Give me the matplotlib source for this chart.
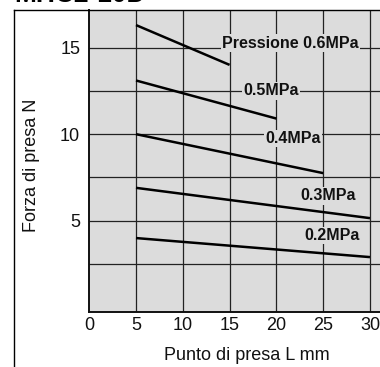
import matplotlib
matplotlib.use("Agg")
import matplotlib.pyplot as plt
from matplotlib.lines import Line2D

plt.rcParams['font.family'] = ['Liberation Sans', 'DejaVu Sans']

# Data
series_labels = ["Pressione 0.6MPa", "0.5MPa", "0.4MPa", "0.3MPa", "0.2MPa"]
series_x = [[5, 15], [5, 20], [5, 25], [5, 30], [5, 30]]
series_y = [[16.3, 14.0], [13.1, 10.9], [10.0, 7.75], [6.9, 5.15], [4.0, 2.9]]
label_pos = [(21.5, 15.25), (19.4, 12.5), (21.8, 9.75), (25.5, 6.45), (26.0, 4.15)]
x_ticks = [0, 5, 10, 15, 20, 25, 30]
y_ticks = [5, 10, 15]

W, H = 380, 367
fig = plt.figure(figsize=(W / 100, H / 100), dpi=100)
ax = fig.add_axes([89.2 / W, 55 / H, (W - 89.2) / W, 302 / H])
ax.set_facecolor('#dcdcdc')
ax.set_xlim(0, 31.07)
ax.set_ylim(-0.27, 17.17)

# grid
for gx in range(5, 31, 5):
    ax.axvline(gx, color='#222222', lw=0.9, zorder=1)
for gy in [2.5, 5, 7.5, 10, 12.5, 15]:
    ax.axhline(gy, color='#222222', lw=0.9, zorder=1)

for xs, ys in zip(series_x, series_y):
    ax.plot(xs, ys, color='black', lw=1.8, zorder=3, solid_capstyle='butt')

for lab, (lx, ly) in zip(series_labels, label_pos):
    ax.text(lx, ly, lab, ha='center', va='center', fontsize=11.5, fontweight='bold',
            color='#111111', zorder=4,
            bbox=dict(facecolor='#dcdcdc', edgecolor='none', pad=1.0))

ax.set_xticks(x_ticks)
ax.set_xticklabels([str(v) for v in x_ticks])
ax.set_yticks(y_ticks)
ax.set_yticklabels([str(v) for v in y_ticks])
ax.tick_params(length=0, labelsize=13, colors='#111111', pad=6.5)
ax.tick_params(axis='x', pad=3.5)
for s in ['top', 'right']:
    ax.spines[s].set_visible(False)
for s in ['left', 'bottom']:
    ax.spines[s].set_linewidth(1.4)
    ax.spines[s].set_color('#111111')

fig.text(247 / W, 1 - 356 / H, "Punto di presa L mm", ha='center', va='center', fontsize=13, color='#111111')
fig.text(32 / W, 1 - 165 / H, "Forza di presa N", ha='center', va='center', fontsize=13, rotation=90, color='#111111')

# outer frame
fig.add_artist(Line2D([14 / W, 14 / W], [0, 1 - 10 / H], color='black', lw=1.0, transform=fig.transFigure))
fig.add_artist(Line2D([14 / W, 1], [1 - 10 / H, 1 - 10 / H], color='black', lw=1.0, transform=fig.transFigure))

# title (mostly cut off at the top)
fig.text(14 / W, 1 - 2.5 / H, "MHC2-10D", ha='left', va='baseline', fontsize=19, fontweight='bold')

fig.savefig('out.png', dpi=100)
